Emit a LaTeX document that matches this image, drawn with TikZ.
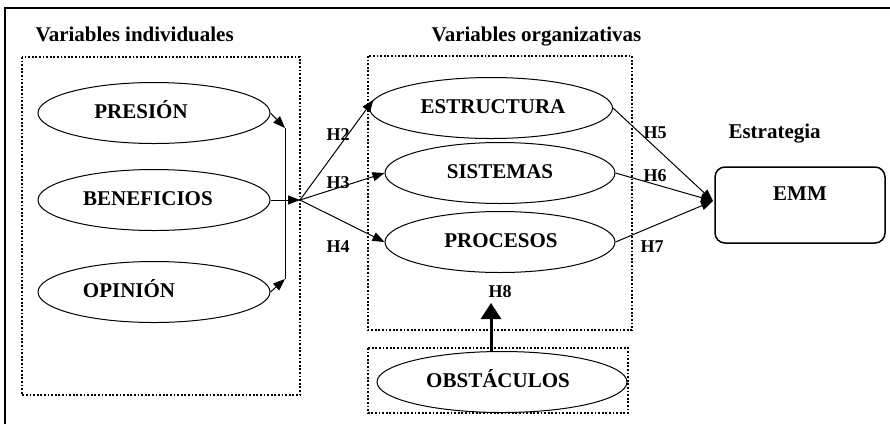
\documentclass[tikz,border=0pt]{standalone}
\usepackage{fontspec}
\setmainfont{Liberation Serif}
\usetikzlibrary{shapes.geometric,arrows.meta}
% ellipse: name, x, y, width, text, text x
\newcommand{\varell}[6]{ \node[shape=ellipse,draw,line width=1pt,minimum width=#4,minimum height=61pt,inner sep=0pt] (#1) at ( #2 , #3 ){}; \node[lbl,anchor=base] (#1t) at ( #6 , #3 + 5 ){#5};}
\newcommand{\dotbox}[4]{ \draw[line width=2.4pt,dash pattern=on 1.8pt off 1.8pt] ( #1 , #2 ) rectangle ( #3 , #4 );}

\begin{document}
\begin{tikzpicture}[x=1pt,y=-1pt,
    lbl/.style={font=\fontsize{21}{25}\selectfont\bfseries},
    hyp/.style={font=\fontsize{18}{22}\selectfont\bfseries},
    >={Triangle[length=12pt,width=9pt]}]
    \useasboundingbox (0,0) rectangle (890,424);
    % frame
    \draw[line width=1.5pt] (5,424) -- (5,8) -- (890,8);
    % titles
    \node[lbl,anchor=base west] (tind) at (32,41){Variables individuales};
    \node[lbl,anchor=base west] (torg) at (428,41){Variables organizativas};
    \node[lbl,anchor=base west] (test) at (725,138){Estrategia};
    % boxes
    \dotbox{22}{57}{300}{395}
    \dotbox{368}{56}{632}{330}
    \dotbox{368}{348}{628}{413}
    % individual
    \varell{pres}{154}{113}{232pt}{PRESIÓN}{141}
    \varell{bene}{154}{200}{232pt}{BENEFICIOS}{148}
    \varell{opin}{154}{292}{232pt}{OPINIÓN}{129}
    % organizational
    \varell{estr}{491}{108}{243pt}{ESTRUCTURA}{493}
    \varell{sist}{500}{173}{230pt}{SISTEMAS}{500}
    \varell{proc}{500}{242}{230pt}{PROCESOS}{501}
    \varell{obst}{502}{382}{250pt}{OBSTÁCULOS}{498}
    % strategy
    \node[draw,line width=1.5pt,rounded corners=10pt,minimum width=170pt,minimum height=76pt] (emm) at (800,205){};
    \node[lbl,anchor=base] (emmt) at (800,200){EMM};
    % joins
    \coordinate (bartop) at (285,128);
    \coordinate (barbot) at (285,279);
    \coordinate (hub) at (300,200);
    \coordinate (emmin) at (713,201);
    \coordinate (h8) at (491,303);
    \draw[line width=1pt,->] (pres.east) -- (bartop);
    \draw[line width=1pt,->] (opin.east) -- (barbot);
    \draw[line width=1pt] (bartop) -- (barbot);
    \draw[line width=1pt,->] (bene.east) -- (hub);
    \draw[line width=1pt,->] (hub) -- (estr.176);
    \draw[line width=1pt,->] (hub) -- (sist.west);
    \draw[line width=1pt,->] (hub) -- (proc.west);
    \draw[line width=1pt,->] (estr.east) -- (emmin);
    \draw[line width=1pt,->] (sist.east) -- (emmin);
    \draw[line width=1pt,->] (proc.east) -- (emmin);
    \draw[line width=3pt,-{Triangle[length=16pt,width=20pt]}] (obst.north -| h8) -- (h8);
    % hypotheses
    \node[hyp,anchor=base west] (h2) at (323,140){H2};
    \node[hyp,anchor=base west] (h3) at (323,188){H3};
    \node[hyp,anchor=base west] (h4) at (323,252){H4};
    \node[hyp,anchor=base west] (h5) at (640,138){H5};
    \node[hyp,anchor=base west] (h6) at (640,181){H6};
    \node[hyp,anchor=base west] (h7) at (637,252){H7};
    \node[hyp,anchor=base west] (h8t) at (485,297){H8};
\end{tikzpicture}
\end{document}
